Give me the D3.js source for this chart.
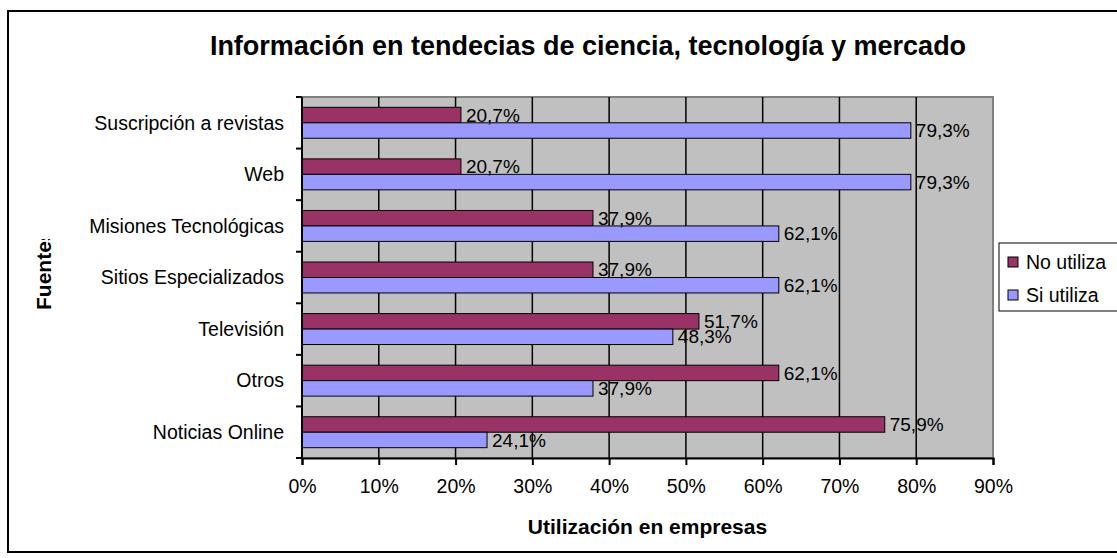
<!DOCTYPE html>
<html>
<head>
<meta charset="utf-8">
<script src="https://cdn.jsdelivr.net/npm/d3@7"></script>
<style>
  body { margin: 0; background: #fff; }
  text { font-family: "Liberation Sans", Arial, sans-serif; fill: #000; }
</style>
</head>
<body>
<div id="chart"></div>
<script>
const categories = ['Suscripción a revistas', 'Web', 'Misiones Tecnológicas', 'Sitios Especializados', 'Televisión', 'Otros', 'Noticias Online'];
const noUtiliza = [20.7, 20.7, 37.9, 37.9, 51.7, 62.1, 75.9];
const siUtiliza = [79.3, 79.3, 62.1, 62.1, 48.3, 37.9, 24.1];
const seriesNames = ['No utiliza', 'Si utiliza'];
const xTicks = [0, 10, 20, 30, 40, 50, 60, 70, 80, 90];

const w = 1117;
const h = 558;
const plotL = 302, plotR = 993, plotT = 97, plotB = 458;
const colors = ['#993366', '#9999FF'];

const svg = d3.select('#chart').append('svg').attr('width', w).attr('height', h);

// outer chart border
svg.append('rect').attr('x', 8).attr('y', 11).attr('width', 1200).attr('height', 541)
  .attr('fill', '#fff').attr('stroke', '#000').attr('stroke-width', 2);

const xScale = d3.scaleLinear().domain([0, 90]).range([plotL, plotR]);
const yScale = d3.scaleBand().domain(categories).range([plotT, plotB]).paddingInner(0.4).paddingOuter(0.2);
const inner = d3.scaleBand().domain(seriesNames).range([0, yScale.bandwidth()]);

// plot area
svg.append('rect').attr('x', plotL).attr('y', plotT).attr('width', plotR - plotL).attr('height', plotB - plotT)
  .attr('fill', '#C0C0C0').attr('stroke', '#808080').attr('stroke-width', 2);

// gridlines
svg.append('g').selectAll('line').data(xTicks.slice(1, -1)).enter().append('line')
  .attr('x1', d => xScale(d)).attr('x2', d => xScale(d))
  .attr('y1', plotT).attr('y2', plotB)
  .attr('stroke', '#000').attr('stroke-width', 1.5);

// bars
const rows = categories.map((c, i) => ({ cat: c, vals: [noUtiliza[i], siUtiliza[i]] }));
const groups = svg.append('g').selectAll('g').data(rows).enter().append('g')
  .attr('transform', d => 'translate(0,' + yScale(d.cat) + ')');

groups.selectAll('rect').data(d => d.vals.map((v, j) => ({ v: v, s: seriesNames[j], j: j }))).enter().append('rect')
  .attr('x', xScale(0))
  .attr('y', d => inner(d.s))
  .attr('width', d => xScale(d.v) - xScale(0))
  .attr('height', inner.bandwidth())
  .attr('fill', d => colors[d.j])
  .attr('stroke', '#000').attr('stroke-width', 1);

groups.selectAll('text').data(d => d.vals.map((v, j) => ({ v: v, s: seriesNames[j] }))).enter().append('text')
  .attr('x', d => xScale(d.v) + 5)
  .attr('y', d => inner(d.s) + inner.bandwidth() / 2)
  .attr('dy', '0.35em')
  .style('font-size', '19px')
  .text(d => d.v.toFixed(1).replace('.', ',') + '%');

// y axis
const step = yScale.step();
const yg = svg.append('g');
yg.append('line').attr('x1', plotL).attr('x2', plotL).attr('y1', plotT).attr('y2', plotB).attr('stroke', '#000').attr('stroke-width', 2);
yg.selectAll('line.t').data(d3.range(categories.length + 1)).enter().append('line').attr('class', 't')
  .attr('x1', plotL - 6).attr('x2', plotL).attr('y1', i => plotT + i * step).attr('y2', i => plotT + i * step)
  .attr('stroke', '#000').attr('stroke-width', 2);
yg.selectAll('text').data(categories).enter().append('text')
  .attr('x', plotL - 18).attr('y', d => yScale(d) + yScale.bandwidth() / 2).attr('dy', '0.35em')
  .attr('text-anchor', 'end').style('font-size', '19.5px').text(d => d);

// x axis
const xAxis = d3.axisBottom(xScale).tickValues(xTicks).tickSize(7).tickPadding(14).tickFormat(d => d + '%');
const xg = svg.append('g').attr('transform', 'translate(0,' + plotB + ')').call(xAxis);
xg.select('.domain').attr('stroke', '#000').attr('stroke-width', 2);
xg.selectAll('.tick line').attr('stroke', '#000').attr('stroke-width', 2);
xg.selectAll('.tick text').style('font-size', '19.5px').style('font-family', '"Liberation Sans", Arial, sans-serif').attr('fill', '#000');

// titles
svg.append('text').attr('x', 588).attr('y', 55).attr('text-anchor', 'middle')
  .style('font-size', '27px').style('font-weight', 'bold')
  .text('Información en tendecias de ciencia, tecnología y mercado');

svg.append('text').attr('x', (plotL + plotR) / 2).attr('y', 534).attr('text-anchor', 'middle')
  .style('font-size', '21px').style('font-weight', 'bold')
  .text('Utilización en empresas');

svg.append('clipPath').attr('id', 'yclip').append('rect').attr('x', 0).attr('y', 239).attr('width', 100).attr('height', 200);
svg.append('g').attr('clip-path', 'url(#yclip)').append('text')
  .attr('transform', 'translate(51,310) rotate(-90)')
  .style('font-size', '21px').style('font-weight', 'bold')
  .text('Fuentes');

// legend
const lg = svg.append('g');
lg.append('rect').attr('x', 999).attr('y', 243).attr('width', 200).attr('height', 68)
  .attr('fill', '#fff').attr('stroke', '#000').attr('stroke-width', 1);
const li = lg.selectAll('g').data(seriesNames).enter().append('g')
  .attr('transform', (d, i) => 'translate(1008,' + (257 + i * 33) + ')');
li.append('rect').attr('width', 10).attr('height', 10).attr('fill', (d, i) => colors[i]).attr('stroke', '#000').attr('stroke-width', 1);
li.append('text').attr('x', 18).attr('y', 5).attr('dy', '0.35em').style('font-size', '19.5px').text(d => d);
</script>
</body>
</html>
